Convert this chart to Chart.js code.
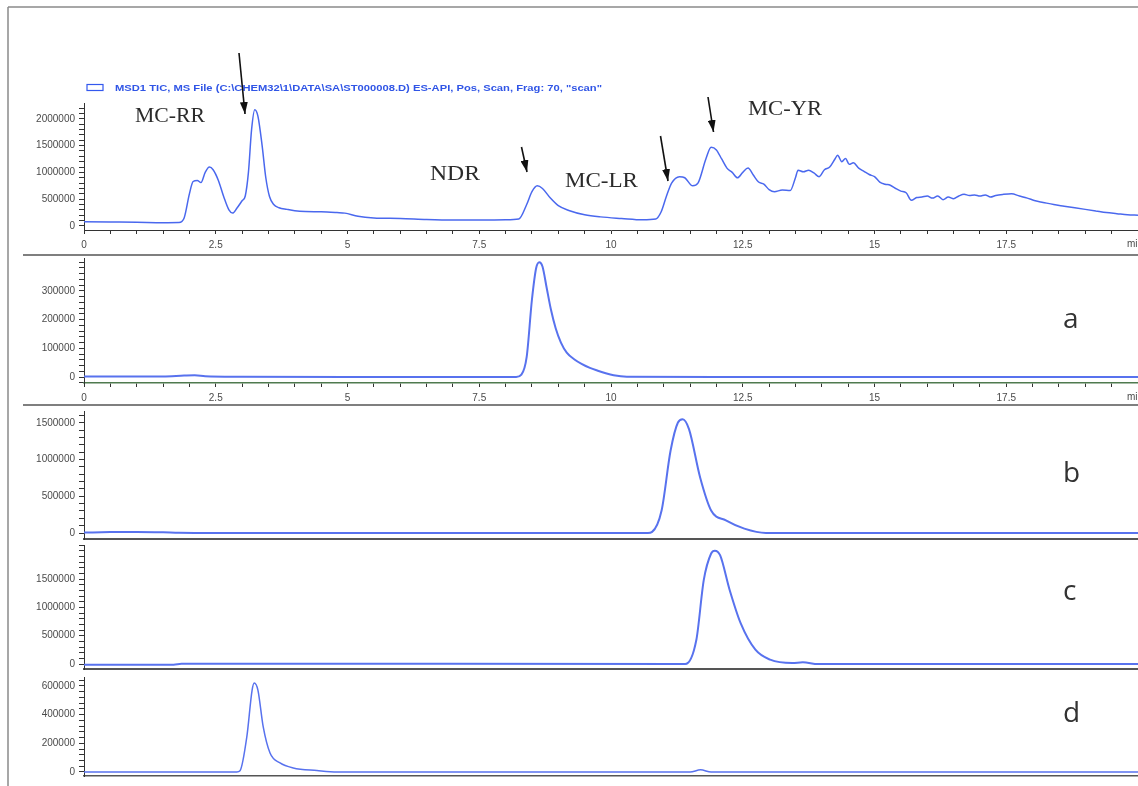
<!DOCTYPE html>
<html><head><meta charset="utf-8">
<script src="https://cdn.jsdelivr.net/npm/chart.js@4.4.0/dist/chart.umd.min.js"></script>
<style>
html,body{margin:0;padding:0;background:#fff;width:1138px;height:786px;overflow:hidden;position:relative}
canvas{position:absolute;left:0}
svg{position:absolute;left:0;top:0;pointer-events:none}
</style></head><body>
<canvas id="p0"></canvas>
<canvas id="pa"></canvas>
<canvas id="pb"></canvas>
<canvas id="pc"></canvas>
<canvas id="pd"></canvas>
<svg width="1138" height="786" xmlns="http://www.w3.org/2000/svg">
  <defs>
    <marker id="ah" markerUnits="userSpaceOnUse" markerWidth="12" markerHeight="8" refX="12" refY="4" orient="auto">
      <path d="M0,0 L12,4 L0,8 z" fill="#111"/>
    </marker>
  </defs>
  <line x1="8" y1="7" x2="1138" y2="7" stroke="#8a8a8a" stroke-width="1.5"/>
  <line x1="8" y1="7" x2="8" y2="786" stroke="#8a8a8a" stroke-width="1.5"/>
  <line x1="23" y1="255" x2="1138" y2="255" stroke="#555" stroke-width="1.6"/>
  <line x1="23" y1="405" x2="1138" y2="405" stroke="#555" stroke-width="1.6"/>
  <rect x="87" y="84.5" width="16" height="6" fill="none" stroke="#3358ee" stroke-width="1.2"/>
  <text id="legendText" x="115" y="91" font-family="Liberation Sans, Arial, sans-serif" font-size="8.5" font-weight="bold" fill="#3055e6" textLength="487" lengthAdjust="spacingAndGlyphs"></text>
  <g id="ann" font-family="Liberation Serif, Times New Roman, serif" font-size="22" fill="#2b2b2b"></g>
  <g id="arrows" stroke="#111" stroke-width="1.6" marker-end="url(#ah)"></g>
  <g id="letters" font-family="Open Sans, DejaVu Sans, sans-serif" font-size="28" fill="#333"></g>
  <g id="units" font-family="Liberation Sans, Arial, sans-serif" font-size="10" fill="#4a4a4a"></g>
</svg>
<script>
// ---------- DATA ----------
const legendLabel = 'MSD1 TIC, MS File (C:\\CHEM32\\1\\DATA\\SA\\ST000008.D)    ES-API, Pos, Scan, Frag: 70, "scan"';
const peakNames = ['MC-RR', 'NDR', 'MC-LR', 'MC-YR'];
const panelLetters = ['a', 'b', 'c', 'd'];
const xTickValues = [0, 2.5, 5, 7.5, 10, 12.5, 15, 17.5];
const xTickLabels = ['0', '2.5', '5', '7.5', '10', '12.5', '15', '17.5'];
const xUnitLabel = 'min';
const ticYTicks = [0, 500000, 1000000, 1500000, 2000000];
const aYTicks = [0, 100000, 200000, 300000];
const bYTicks = [0, 500000, 1000000, 1500000];
const cYTicks = [0, 500000, 1000000, 1500000];
const dYTicks = [0, 200000, 400000, 600000];

// Total ion chromatogram: [time (min), intensity]
const ticTrace = [[0,80000],[0.5,75000],[1.0,70000],[1.5,62000],[1.8,65000],[1.9,150000],[2.0,600000],[2.07,830000],[2.15,850000],[2.22,810000],[2.3,1000000],[2.38,1100000],[2.45,1050000],[2.55,850000],[2.65,550000],[2.75,300000],[2.82,240000],[2.9,330000],[3.0,470000],[3.06,560000],[3.12,1000000],[3.18,1800000],[3.24,2170000],[3.3,2050000],[3.38,1500000],[3.45,900000],[3.52,550000],[3.6,400000],[3.7,340000],[3.85,310000],[4.0,285000],[4.2,270000],[4.5,265000],[4.8,250000],[4.95,240000],[5.2,180000],[5.5,150000],[6.0,140000],[6.5,120000],[7.0,110000],[7.5,110000],[8.0,115000],[8.25,130000],[8.4,400000],[8.5,640000],[8.6,750000],[8.7,700000],[8.85,520000],[9.0,380000],[9.2,290000],[9.5,210000],[9.8,170000],[10.2,140000],[10.6,115000],[10.85,130000],[10.95,260000],[11.05,550000],[11.15,800000],[11.3,920000],[11.4,900000],[11.55,750000],[11.65,800000],[11.8,1250000],[11.9,1470000],[12.0,1420000],[12.1,1250000],[12.2,1080000],[12.3,1000000],[12.4,900000],[12.5,1000000],[12.6,1080000],[12.7,950000],[12.8,820000],[12.9,780000],[13.0,680000],[13.1,640000],[13.25,670000],[13.4,660000],[13.5,900000],[13.55,1040000],[13.65,1010000],[13.75,1040000],[13.85,990000],[13.95,920000],[14.05,1050000],[14.15,1100000],[14.25,1250000],[14.3,1320000],[14.38,1200000],[14.45,1260000],[14.52,1150000],[14.6,1180000],[14.7,1080000],[14.8,1020000],[14.9,960000],[15.0,920000],[15.1,820000],[15.2,780000],[15.3,760000],[15.4,700000],[15.5,650000],[15.6,620000],[15.7,480000],[15.8,530000],[15.9,540000],[16.0,560000],[16.1,520000],[16.2,560000],[16.3,490000],[16.4,540000],[16.5,510000],[16.6,560000],[16.7,590000],[16.8,570000],[16.9,580000],[17.0,560000],[17.1,580000],[17.2,540000],[17.3,570000],[17.45,590000],[17.6,600000],[17.75,560000],[17.9,520000],[18.05,470000],[18.2,440000],[18.4,400000],[18.6,370000],[18.8,340000],[19.0,310000],[19.2,280000],[19.4,250000],[19.6,230000],[19.8,210000],[20.0,200000]];

// Extracted ion chromatograms a-d: [time (min), intensity]
const aTrace = [[0,2000],[1.5,2000],[1.9,5000],[2.1,6000],[2.3,3000],[3.0,1000],[5.0,0],[8.2,0],[8.3,8000],[8.4,70000],[8.5,270000],[8.58,380000],[8.64,400000],[8.7,385000],[8.78,310000],[8.86,235000],[8.95,170000],[9.05,120000],[9.16,85000],[9.3,62000],[9.45,45000],[9.6,32000],[9.75,22000],[9.9,13000],[10.05,6000],[10.3,1000],[12,0],[20,0]];
const bTrace = [[0,6000],[0.5,12000],[1.0,14000],[1.5,9000],[1.8,3000],[2.5,0],[10.7,0],[10.78,15000],[10.96,307000],[11.13,1120000],[11.27,1505000],[11.36,1550000],[11.48,1415000],[11.69,760000],[11.9,307000],[12.18,172000],[12.53,59000],[12.94,0],[20,0]];
const cTrace = [[0,-15000],[1.0,-15000],[1.7,-12000],[1.85,5000],[2.5,5000],[11.3,0],[11.41,0],[11.62,428000],[11.76,1480000],[11.9,1950000],[11.97,2000000],[12.07,1920000],[12.25,1310000],[12.46,720000],[12.74,252000],[13.02,76000],[13.44,18000],[13.64,30000],[13.93,0],[20,0]];
const dTrace = [[0,0],[2.9,0],[2.96,8000],[3.09,246000],[3.19,571000],[3.23,620000],[3.3,571000],[3.4,316000],[3.53,132000],[3.72,63000],[3.97,28000],[4.42,10000],[4.8,0],[11.5,0],[11.7,15000],[11.9,0],[20,0]];

// ---------- LAYOUT ----------
const PADT = 12, PADB = 12, YW = 84, XMAX = 20;
const LABEL_FONT = {family: 'Liberation Sans, Arial, sans-serif', size: 10};

function minorList(min, max, step) {
  const out = [];
  for (let v = Math.ceil(min / step) * step; v <= max + 1e-9; v += step) out.push(Math.round(v * 1e6) / 1e6);
  return out;
}

function makePanel(id, cfg) {
  const cv = document.getElementById(id);
  cv.width = 1138 + 40;
  cv.height = PADT + cfg.plotH + cfg.xH + PADB;
  cv.style.top = (cfg.top - PADT) + 'px';
  const xList = minorList(0, XMAX, 0.5);
  const yList = minorList(cfg.min, cfg.max, cfg.minor);
  return new Chart(cv, {
    type: 'line',
    data: {datasets: [{
      data: cfg.trace.map(p => ({x: p[0], y: p[1]})),
      borderColor: cfg.color, borderWidth: cfg.lw, pointRadius: 0,
      cubicInterpolationMode: 'monotone', fill: false
    }]},
    options: {
      responsive: false, animation: false, devicePixelRatio: 1,
      layout: {padding: {left: 0, right: 40, top: PADT, bottom: PADB}},
      plugins: {legend: {display: false}, tooltip: {enabled: false}},
      scales: {
        x: {
          type: 'linear', min: 0, max: XMAX,
          afterBuildTicks: s => { s.ticks = xList.map(v => ({value: v})); },
          afterFit: s => { s.height = cfg.xH; },
          ticks: {
            display: cfg.xLabels, autoSkip: false, maxRotation: 0, minRotation: 0,
            padding: 5, font: LABEL_FONT, color: '#4a4a4a',
            callback: v => {
              const i = xTickValues.findIndex(t => Math.abs(t - v) < 1e-6);
              return i >= 0 ? xTickLabels[i] : '';
            }
          },
          grid: {drawOnChartArea: false, drawTicks: cfg.xTicks, tickLength: 4, color: '#333'},
          border: {display: true, color: cfg.xBorder, width: cfg.xBorderW}
        },
        y: {
          type: 'linear', min: cfg.min, max: cfg.max,
          afterBuildTicks: s => { s.ticks = yList.map(v => ({value: v})); },
          afterFit: s => { s.width = YW; },
          ticks: {
            autoSkip: false, padding: 4, font: LABEL_FONT, color: '#4a4a4a',
            callback: v => cfg.majors.some(t => Math.abs(t - v) < 1e-6) ? String(v) : ''
          },
          grid: {drawOnChartArea: false, drawTicks: true, tickLength: 5, color: '#333'},
          border: {display: true, color: '#333', width: 1}
        }
      }
    }
  });
}

const c0 = makePanel('p0', {top: 103, plotH: 127, xH: 22, min: -75000, max: 2295000, minor: 100000, majors: ticYTicks,
  trace: ticTrace, color: '#4a68ee', lw: 1.5, xLabels: true, xTicks: true, xBorder: '#333', xBorderW: 1});
const ca = makePanel('pa', {top: 258, plotH: 125, xH: 22, min: -20900, max: 414600, minor: 20000, majors: aYTicks,
  trace: aTrace, color: '#5872ee', lw: 2, xLabels: true, xTicks: true, xBorder: '#4f7a4f', xBorderW: 1.5});
makePanel('pb', {top: 411, plotH: 128, xH: 3, min: -81700, max: 1662000, minor: 100000, majors: bYTicks,
  trace: bTrace, color: '#5872ee', lw: 2, xLabels: false, xTicks: false, xBorder: '#555', xBorderW: 2});
makePanel('pc', {top: 545, plotH: 124, xH: 3, min: -88200, max: 2100000, minor: 100000, majors: cYTicks,
  trace: cTrace, color: '#5872ee', lw: 2, xLabels: false, xTicks: false, xBorder: '#555', xBorderW: 2});
makePanel('pd', {top: 677, plotH: 99, xH: 3, min: -27900, max: 662000, minor: 40000, majors: dYTicks,
  trace: dTrace, color: '#5872ee', lw: 1.5, xLabels: false, xTicks: false, xBorder: '#555', xBorderW: 1.5});

// ---------- TEXT & ARROWS ----------
const NS = 'http://www.w3.org/2000/svg';
document.getElementById('legendText').textContent = legendLabel;
const annPos = [[135, 122, 70], [430, 180, 50], [565, 187, 73], [748, 115, 74]];
const ann = document.getElementById('ann');
peakNames.forEach((n, i) => {
  const t = document.createElementNS(NS, 'text');
  t.setAttribute('x', annPos[i][0]); t.setAttribute('y', annPos[i][1]);
  t.setAttribute('textLength', annPos[i][2]); t.setAttribute('lengthAdjust', 'spacingAndGlyphs');
  t.textContent = n; ann.appendChild(t);
});
const arrowPos = [[239, 53, 245, 114], [521.5, 147, 527, 172], [660.5, 136, 668, 181], [708, 97, 713.5, 132]];
const arr = document.getElementById('arrows');
arrowPos.forEach(a => {
  const l = document.createElementNS(NS, 'line');
  l.setAttribute('x1', a[0]); l.setAttribute('y1', a[1]); l.setAttribute('x2', a[2]); l.setAttribute('y2', a[3]);
  arr.appendChild(l);
});
const letterPos = [[1063, 328], [1063, 482], [1063, 600], [1063, 722]];
const lg = document.getElementById('letters');
panelLetters.forEach((c, i) => {
  const t = document.createElementNS(NS, 'text');
  t.setAttribute('x', letterPos[i][0]); t.setAttribute('y', letterPos[i][1]);
  t.textContent = c; lg.appendChild(t);
});
// axis unit label at the right end of the labelled time axes
const units = document.getElementById('units');
[c0, ca].forEach(ch => {
  const xs = ch.scales.x;
  const t = document.createElementNS(NS, 'text');
  t.setAttribute('x', 1127);
  t.setAttribute('y', parseFloat(ch.canvas.style.top) + xs.top + 17);
  t.textContent = xUnitLabel; units.appendChild(t);
});
</script>
</body></html>
